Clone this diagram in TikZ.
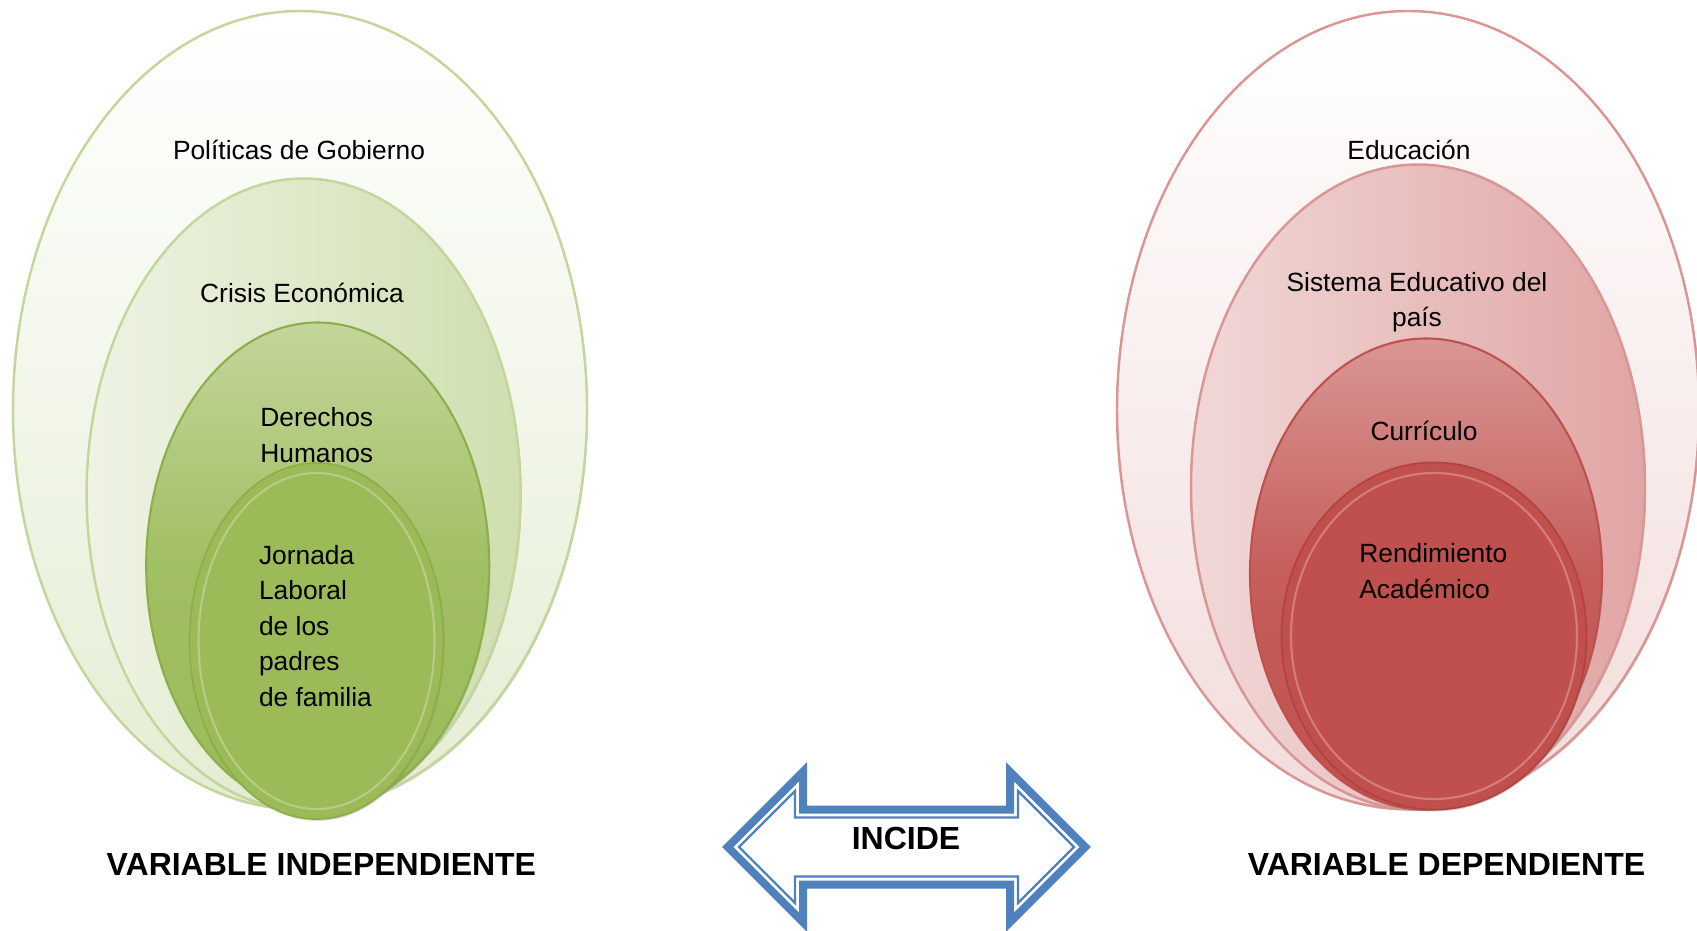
\documentclass[tikz,border=0pt]{standalone}
\usepackage{fontspec}
\setmainfont{Liberation Sans}
\usetikzlibrary{shadows}
\definecolor{olvline}{HTML}{C3D69B}
\definecolor{olvpale}{HTML}{E4EDD3}
\definecolor{olvlite}{HTML}{EEF3E4}
\definecolor{olvmid}{HTML}{CFDFAF}
\definecolor{olv}{HTML}{9BBB59}
\definecolor{olvdark}{HTML}{8CAF4A}
\definecolor{olvring}{HTML}{B5CD84}
\definecolor{redline}{HTML}{D99694}
\definecolor{redpale}{HTML}{F2DCDB}
\definecolor{redlite}{HTML}{F0D8D7}
\definecolor{redmid}{HTML}{E0A5A4}
\definecolor{redd}{HTML}{C0504D}
\definecolor{reddark}{HTML}{B4423F}
\definecolor{redring}{HTML}{D47D7A}
\definecolor{incideblue}{HTML}{4F81BD}
\begin{document}
\begin{tikzpicture}[x=0.02cm,y=-0.02cm,
    txt/.style={font=\fontsize{15}{20.2}\selectfont,inner sep=0pt},
    vartxt/.style={font=\bfseries\fontsize{18.2}{22}\selectfont,inner sep=0pt},
    shade/.style={drop shadow={shadow xshift=0.6pt,shadow yshift=-1pt,opacity=0.35}}]
    \useasboundingbox (0,0) rectangle (1697,930);
    % variable independiente
    \coordinate (P) at (300,410);
    \coordinate (C) at (303.6,494);
    \coordinate (D) at (317.7,566);
    \coordinate (J) at (316.5,641);
    \draw[olvline,line width=1.4pt,top color=white,bottom color=olvpale,shade] (P) ellipse (287 and 399);
    \draw[olvline,line width=1.4pt,left color=olvlite,right color=olvmid,shade] (C) ellipse (217 and 315.5);
    \draw[olvdark,line width=1.2pt,top color=olvline,bottom color=olv,middle color=olv!85!olvline,shade] (D) ellipse (171.5 and 243.5);
    \draw[olvdark,line width=1pt,fill=olv,shade] (J) ellipse (127 and 178);
    \draw[olvring,line width=1.2pt] (J) ellipse (118 and 168);
    \node[txt] (politicas) at (299,150) {Políticas de Gobierno};
    \node[txt] (crisis) at (302,293) {Crisis Económica};
    \node[txt,anchor=west,align=left] (derechos) at (260,435) {Derechos\\Humanos};
    \node[txt,anchor=west,align=left] (jornada) at (258.7,626) {Jornada\\Laboral\\de los\\padres\\de familia};
    \node[vartxt] (indep) at (321.4,864) {VARIABLE INDEPENDIENTE};
    % variable dependiente
    \coordinate (E) at (1408,410);
    \coordinate (S) at (1418,487);
    \coordinate (K) at (1426,574);
    \coordinate (R) at (1434,636);
    \draw[redline,line width=1.4pt,top color=white,bottom color=redpale,shade] (E) ellipse (291 and 399);
    \draw[redline,line width=1.4pt,left color=redlite,right color=redmid,shade] (S) ellipse (227 and 322.5);
    \draw[redd,line width=1.2pt,top color=redline,bottom color=redd,middle color=redd!80!redline,shade] (K) ellipse (176 and 235.5);
    \draw[reddark,line width=1pt,fill=redd,shade] (R) ellipse (152.5 and 173.6);
    \draw[redring,line width=1.2pt] (R) ellipse (143 and 163);
    \node[txt] (educacion) at (1409,150) {Educación};
    \node[txt,align=center] (sistema) at (1417,302) {Sistema Educativo del\\país};
    \node[txt] (curriculo) at (1424,431) {Currículo};
    \node[txt,anchor=west,align=left] (rendimiento) at (1359,571) {Rendimiento\\Académico};
    \node[vartxt] (dep) at (1446.5,864) {VARIABLE DEPENDIENTE};
    % flecha doble
    \begin{scope}[shift={(906.5,847)}]
        \draw[incideblue,line width=0.16cm,line join=miter,fill=white] (-178.8,0) -- (-103.5,-75.3) -- (-103.5,-37.5) -- (103.5,-37.5) -- (103.5,-75.3) -- (178.8,0) -- (103.5,75.3) -- (103.5,37.5) -- (-103.5,37.5) -- (-103.5,75.3) -- cycle;
        \draw[incideblue,line width=0.045cm,line join=miter] (-167.5,0) -- (-111.5,-56) -- (-111.5,-29.5) -- (111.5,-29.5) -- (111.5,-56) -- (167.5,0) -- (111.5,56) -- (111.5,29.5) -- (-111.5,29.5) -- (-111.5,56) -- cycle;
    \end{scope}
    \node[vartxt] (incide) at (906,838) {INCIDE};
\end{tikzpicture}
\end{document}
